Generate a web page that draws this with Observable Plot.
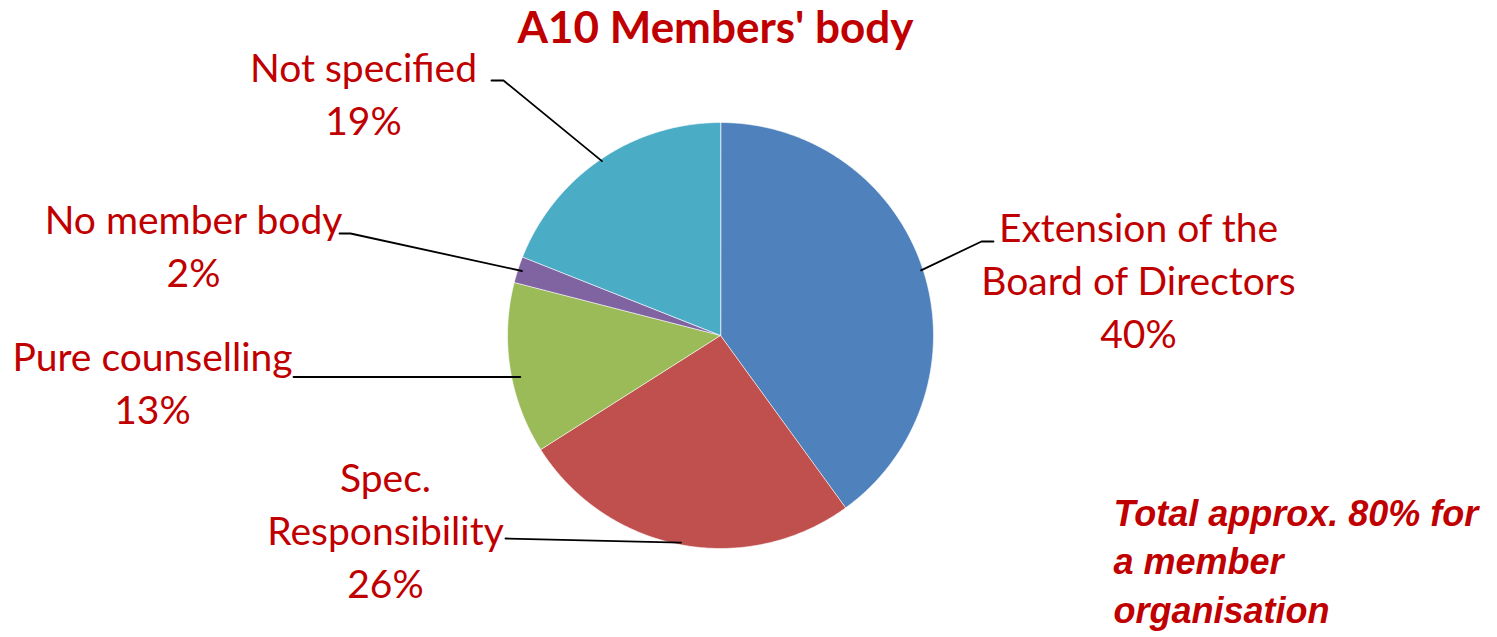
<!DOCTYPE html>
<html><head><meta charset="utf-8">
<script src="https://cdn.jsdelivr.net/npm/d3@7"></script>
<script src="https://cdn.jsdelivr.net/npm/@observablehq/plot@0.6"></script>
<style>html,body{margin:0;padding:0;background:#fff}svg{display:block}</style>
</head><body><div id="chart"></div>
<script>
// ---- data ----
const categories = ["Extension of the Board of Directors", "Spec. Responsibility", "Pure counselling", "No member body", "Not specified"];
const shares = [40, 26, 13, 2, 19];
const labelLines = [["Extension of the", "Board of Directors"], ["Spec.", "Responsibility"], ["Pure counselling"], ["No member body"], ["Not specified"]];
const sliceColors = ["#4F81BD", "#C0504D", "#9BBB59", "#8064A2", "#4BACC6"];
const titleText = "A10 Members' body";
const noteLines = ["Total approx. 80% for", "a member", "organisation"];

// ---- layout ----
const W = 1497, H = 637;
const pieLayout = {cx: 720, cy: 335, r: 213};
const labelLineStep = 53;
const labelLayout = [
  {x: 1138, y: 241.7, leader: [[993, 241], [981, 241]], rEnd: 0.99},
  {x: 385, y: 491.7, leader: [[505, 538]], rEnd: 0.99},
  {x: 152, y: 370, leader: [[293, 376.5]], rEnd: 0.96, level: true},
  {x: 193, y: 233, leader: [[339, 233], [350, 233]], rEnd: 0.98},
  {x: 363, y: 81.7, leader: [[491, 80], [503, 80]], rEnd: 0.99}
];
const titleLayout = {x: 715, y: 42};
const noteLayout = {x: 1113, y: 525, step: 48.5};
const textRed = "#C00000";

// ---- geometry from data ----
const arcs = d3.pie().sort(null).value(d => d)(shares);
const pt = (a, rr) => ({x: pieLayout.cx + rr * Math.sin(a), y: pieLayout.cy - rr * Math.cos(a)});

const slicePts = [];
arcs.forEach((a, i) => {
  const cat = categories[i];
  slicePts.push({cat, ...pt(0, 0)});
  const n = Math.max(2, Math.ceil((a.endAngle - a.startAngle) / 0.01));
  for (let k = 0; k <= n; k++) {
    const ang = a.startAngle + (a.endAngle - a.startAngle) * k / n;
    slicePts.push({cat, ...pt(ang, pieLayout.r)});
  }
});

const leaderPts = [];
arcs.forEach((a, i) => {
  const L = labelLayout[i];
  L.leader.forEach(([x, y]) => leaderPts.push({cat: categories[i], x, y}));
  const mid = (a.startAngle + a.endAngle) / 2;
  const rr = pieLayout.r * L.rEnd;
  if (L.level) {
    // end where the horizontal leader meets the inner ring, on the slice side
    const y0 = L.leader[L.leader.length - 1][1];
    const dy = y0 - pieLayout.cy;
    const dx = Math.sqrt(rr * rr - dy * dy) * Math.sign(Math.sin(mid));
    leaderPts.push({cat: categories[i], x: pieLayout.cx + dx, y: y0});
  } else {
    leaderPts.push({cat: categories[i], ...pt(mid, rr)});
  }
});

const labelRows = [];
categories.forEach((c, i) => {
  const lines = [...labelLines[i], `${shares[i]}%`];
  lines.forEach((t, k) => labelRows.push({text: t, x: labelLayout[i].x, y: labelLayout[i].y + k * labelLineStep}));
});

const noteRows = noteLines.map((t, k) => ({text: t, x: noteLayout.x, y: noteLayout.y + k * noteLayout.step}));

const chart = Plot.plot({
  width: W, height: H, margin: 0,
  x: {domain: [0, W], range: [0, W], axis: null},
  y: {domain: [0, H], range: [0, H], axis: null},
  color: {domain: categories, range: sliceColors},
  style: {background: "#fff"},
  marks: [
    Plot.line(slicePts, {x: "x", y: "y", z: "cat", fill: "cat", stroke: "#ffffff", strokeWidth: 0.8, strokeOpacity: 0.8, curve: "linear-closed"}),
    Plot.line(leaderPts, {x: "x", y: "y", z: "cat", stroke: "#000", strokeWidth: 1.8}),
    Plot.text(labelRows, {x: "x", y: "y", text: "text", fill: textRed, fontSize: 39, fontFamily: "Lato", textAnchor: "middle", lineAnchor: "bottom"}),
    Plot.text([titleLayout], {x: "x", y: "y", text: () => titleText, fill: textRed, fontSize: 44, fontWeight: "bold", fontFamily: "Lato", textAnchor: "middle", lineAnchor: "bottom"}),
    Plot.text(noteRows, {x: "x", y: "y", text: "text", fill: textRed, fontSize: 36, fontWeight: "bold", fontStyle: "italic", fontFamily: "Liberation Sans", textAnchor: "start", lineAnchor: "bottom"})
  ]
});
document.getElementById("chart").appendChild(chart);
</script>
</body></html>
